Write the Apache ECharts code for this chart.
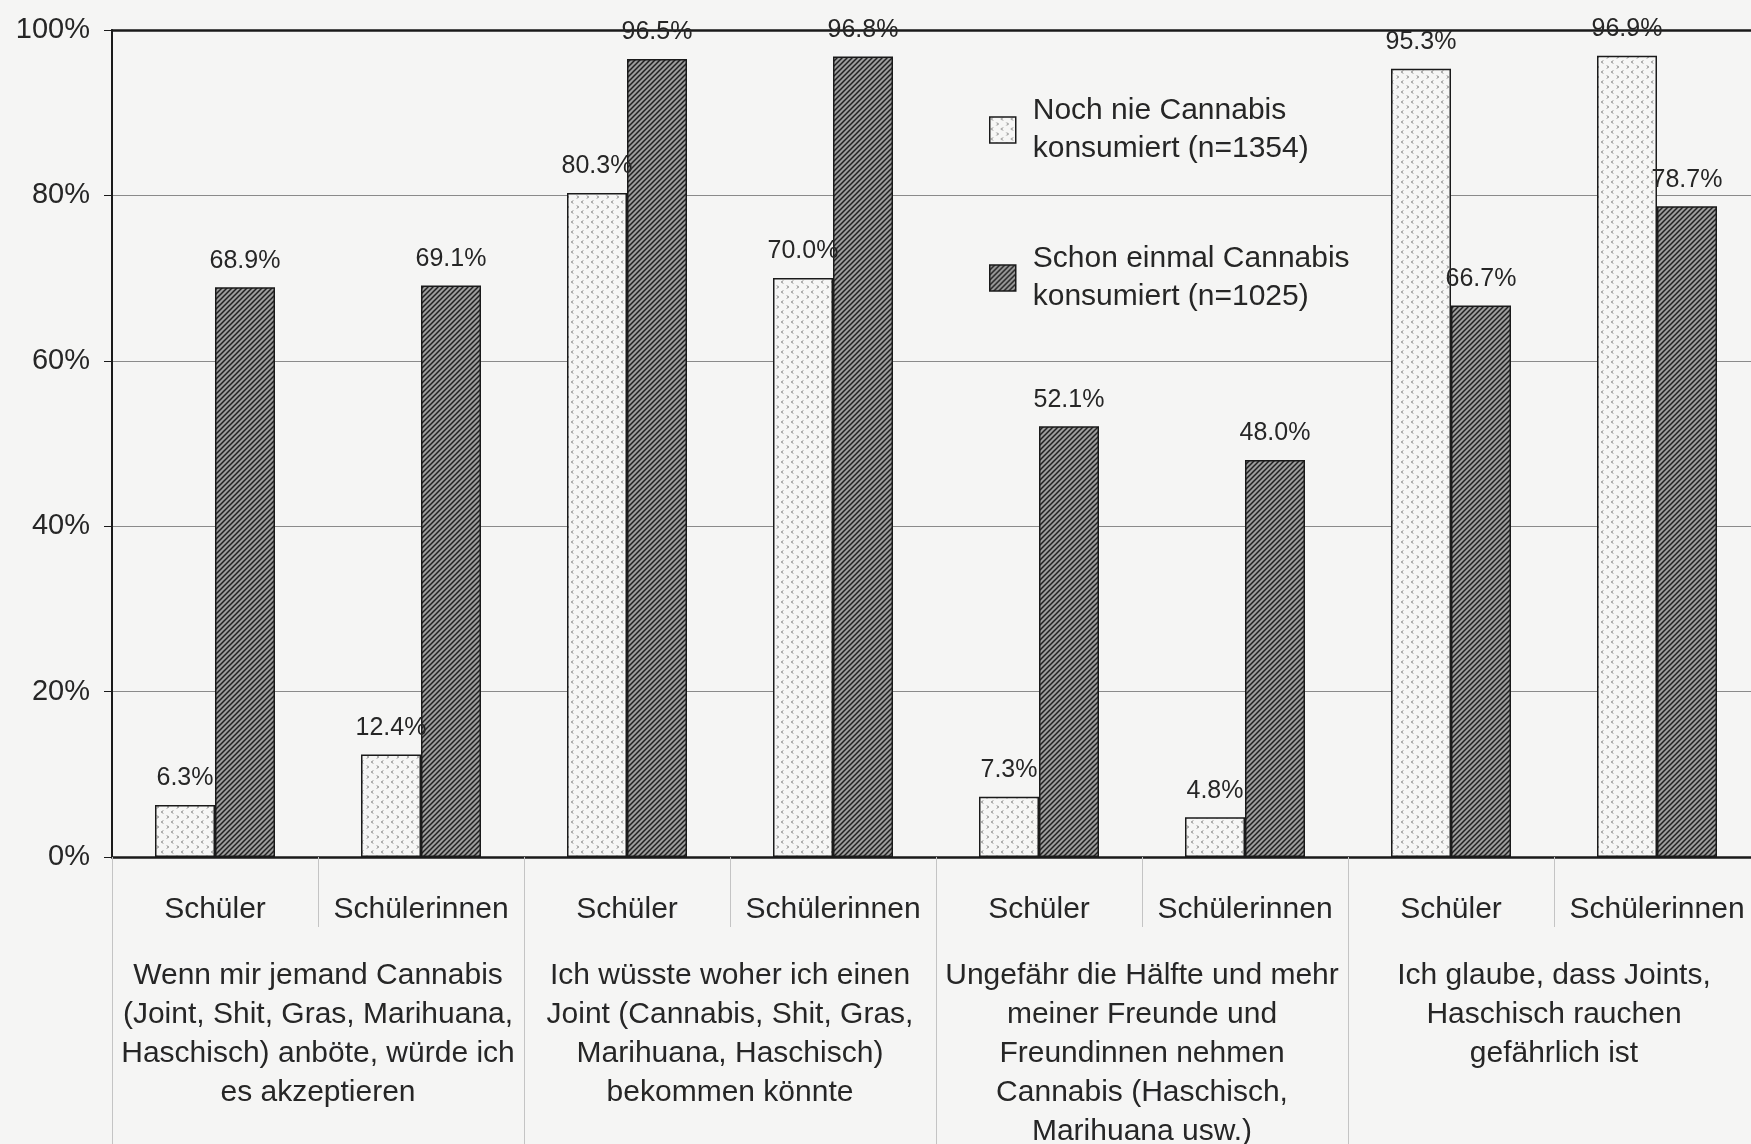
<!DOCTYPE html>
<html><head><meta charset="utf-8">
<script src="https://cdn.jsdelivr.net/npm/echarts@6/dist/echarts.min.js"></script>
<style>html,body{margin:0;padding:0;background:#f5f5f4;}#c{width:1751px;height:1144px;}</style>
</head><body><div id="c"></div>
<script>
const subCategories = ['Schüler','Schülerinnen','Schüler','Schülerinnen','Schüler','Schülerinnen','Schüler','Schülerinnen'];
const groupLabels = [
  'Wenn mir jemand Cannabis\n(Joint, Shit, Gras, Marihuana,\nHaschisch) anböte, würde ich\nes akzeptieren',
  'Ich wüsste woher ich einen\nJoint (Cannabis, Shit, Gras,\nMarihuana, Haschisch)\nbekommen könnte',
  'Ungefähr die Hälfte und mehr\nmeiner Freunde und\nFreundinnen nehmen\nCannabis (Haschisch,\nMarihuana usw.)',
  'Ich glaube, dass Joints,\nHaschisch rauchen\ngefährlich ist'
];
const seriesNames = ['Noch nie Cannabis\nkonsumiert (n=1354)', 'Schon einmal Cannabis\nkonsumiert (n=1025)'];
const nieValues = [6.3, 12.4, 80.3, 70.0, 7.3, 4.8, 95.3, 96.9];
const schonValues = [68.9, 69.1, 96.5, 96.8, 52.1, 48.0, 66.7, 78.7];
const yTicks = [0, 20, 40, 60, 80, 100];

function dotPattern(){
  const c = document.createElement('canvas'); c.width = 10; c.height = 10;
  const g = c.getContext('2d');
  g.fillStyle = '#f6f6f5'; g.fillRect(0,0,10,10);
  g.strokeStyle = '#666'; g.lineWidth = 1;
  g.beginPath(); g.moveTo(3,0.5); g.lineTo(1.5,2); g.lineTo(3,3.5); g.stroke();
  g.beginPath(); g.moveTo(7,5.5); g.lineTo(8.5,7); g.lineTo(7,8.5); g.stroke();
  return c;
}
function hatchPattern(){
  const s = 5;
  const c = document.createElement('canvas'); c.width = s; c.height = s;
  const g = c.getContext('2d');
  g.fillStyle = '#9c9c9c'; g.fillRect(0,0,s,s);
  g.strokeStyle = '#202020'; g.lineWidth = 1.5;
  g.beginPath();
  g.moveTo(0,s); g.lineTo(s,0);
  g.moveTo(-1,1); g.lineTo(1,-1);
  g.moveTo(s-1,s+1); g.lineTo(s+1,s-1);
  g.stroke();
  return c;
}
const font = 'Liberation Sans, Arial, sans-serif';
const txt = '#262626';
const chart = echarts.init(document.getElementById('c'), null, {renderer:'canvas'});
const lbl = {show:true, position:'top', distance:14, fontSize:25, color:txt, fontFamily:font,
  formatter: p => p.value.toFixed(1) + '%'};
chart.setOption({
  backgroundColor:'#f5f5f4',
  animation:false,
  textStyle:{fontFamily:font},
  grid:{left:112, width:1648, top:30, bottom:287, containLabel:false, outerBoundsMode:'none'},
  legend:{
    orient:'vertical', left:984, top:87, itemWidth:26, itemHeight:26, itemGap:72, icon:'rect',
    data: seriesNames,
    itemStyle:{borderColor:'#1a1a1a', borderWidth:1.5},
    textStyle:{fontSize:30, lineHeight:38, color:txt, fontFamily:font, padding:[0,0,0,12]}
  },
  xAxis:[
    {type:'category', data:subCategories, position:'bottom',
     axisLine:{show:true, lineStyle:{color:'#1a1a1a', width:2.5}},
     axisTick:{show:true, interval:0, length:70, lineStyle:{color:'#c4c4c4', width:1}},
     axisLabel:{interval:0, margin:38, fontSize:30, color:txt, fontFamily:font}},
    {type:'category', data:groupLabels, position:'bottom', gridIndex:0,
     axisLine:{show:false},
     axisTick:{show:true, interval:0, length:290, lineStyle:{color:'#c4c4c4', width:1}},
     axisLabel:{interval:0, margin:99, fontSize:30, lineHeight:39, color:txt, fontFamily:font, align:'center'}},
    {type:'category', data:subCategories, position:'top', gridIndex:0,
     axisLine:{show:true, lineStyle:{color:'#1a1a1a', width:2.5}},
     axisTick:{show:false}, axisLabel:{show:false}}
  ],
  yAxis:{type:'value', min:0, max:100, interval:20,
    axisLine:{show:true, lineStyle:{color:'#1a1a1a', width:2}},
    axisTick:{show:true, length:8, lineStyle:{color:'#1a1a1a'}},
    axisLabel:{margin:22, fontSize:29, color:txt, fontFamily:font, formatter:'{value}%'},
    splitLine:{show:true, lineStyle:{color:'#8a8a8a', width:1}}},
  series:[
    {name:seriesNames[0], type:'bar', xAxisIndex:0, data:nieValues, barWidth:60, barGap:'0%',
     itemStyle:{color:{image:dotPattern(), repeat:'repeat'}, borderColor:'#1a1a1a', borderWidth:1.5},
     label:lbl},
    {name:seriesNames[1], type:'bar', xAxisIndex:0, data:schonValues, barWidth:60, barGap:'0%',
     itemStyle:{color:{image:hatchPattern(), repeat:'repeat'}, borderColor:'#1a1a1a', borderWidth:1.5},
     label:lbl}
  ]
});
</script></body></html>
